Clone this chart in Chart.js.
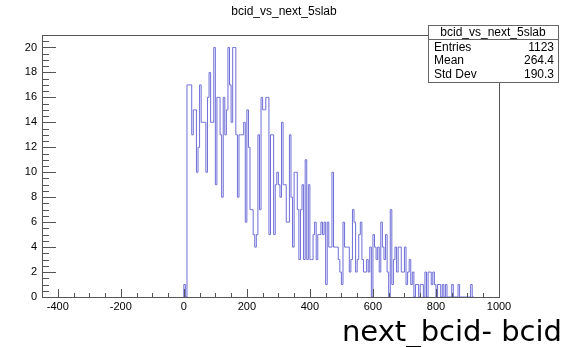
<!DOCTYPE html>
<html>
<head>
<meta charset="utf-8">
<style>
  html, body { margin: 0; padding: 0; background: #fff; }
  canvas { display: block; }
</style>
<script src="https://cdn.jsdelivr.net/npm/chart.js@4/dist/chart.umd.min.js"></script>
</head>
<body>
<canvas id="chart" width="565" height="347"></canvas>
<script>
const histTitle = "bcid_vs_next_5slab";
const axisTitle = "next_bcid- bcid";
const xRange = [-450, 1000];
const yRange = [0, 21];
const binWidth = 5;
const firstEdge = 0;
// counts per 5-unit bin, starting at 0
const counts = [
  1, 0, 17, 17, 17, 13, 15, 15, 10, 12, 17, 14, 14, 14, 10, 16, 18, 14, 14, 20,
  9, 16, 16, 13, 8, 16, 13, 15, 20, 17, 14, 20, 20, 13, 8, 13, 13, 13, 14, 6,
  15, 12, 7, 7, 5, 4, 5, 13, 7, 16, 15, 15, 16, 16, 5, 13, 13, 5, 9, 10,
  9, 8, 14, 9, 9, 6, 6, 13, 8, 4, 10, 10, 7, 3, 7, 9, 3, 11, 3, 9,
  3, 3, 5, 6, 3, 5, 5, 6, 5, 6, 1, 6, 4, 4, 10, 4, 4, 4, 3, 2,
  1, 6, 4, 4, 4, 2, 3, 7, 6, 2, 3, 5, 6, 3, 2, 2, 3, 2, 4, 0,
  5, 4, 3, 4, 2, 6, 4, 3, 5, 2, 0, 7, 1, 3, 4, 2, 4, 4, 2, 2,
  4, 1, 2, 3, 1, 2, 0, 1, 1, 0, 1, 1, 0, 2, 0, 2, 2, 1, 2, 1,
  0, 1, 1, 0, 1, 0, 1, 0, 0, 0, 1, 0, 0, 0, 1, 0, 0, 0, 0, 0,
  0, 0, 1, 0
];
const xTickLabels = [-400, -200, 0, 200, 400, 600, 800, 1000];
const yTickLabels = [0, 2, 4, 6, 8, 10, 12, 14, 16, 18, 20];
const statNames = ["Entries", "Mean", "Std Dev"];
const statValues = ["1123", "264.4", "190.3"];

const points = [{ x: firstEdge, y: 0 }];
counts.forEach((c, i) => points.push({ x: firstEdge + i * binWidth, y: c }));
points.push({ x: firstEdge + counts.length * binWidth, y: 0 });

const font = "'Liberation Sans', Arial, sans-serif";

const rootStyle = {
  id: "rootStyle",
  beforeDraw(chart) {
    const ctx = chart.ctx;
    ctx.save();
    ctx.fillStyle = "#fff";
    ctx.fillRect(0, 0, chart.width, chart.height);
    ctx.restore();
  },
  afterDraw(chart) {
    const ctx = chart.ctx;
    const a = chart.chartArea;
    const xs = chart.scales.x;
    const ys = chart.scales.y;
    ctx.save();
    ctx.strokeStyle = "#555";
    ctx.lineWidth = 1;
    ctx.strokeRect(Math.round(a.left) + 0.5, Math.round(a.top) + 0.5,
      Math.round(a.right - a.left), Math.round(a.bottom - a.top));

    // ticks drawn inside the frame
    ctx.beginPath();
    for (let v = -400; v <= 1000; v += 50) {
      const px = Math.round(xs.getPixelForValue(v)) + 0.5;
      const len = v % 200 === 0 ? 8 : 4;
      ctx.moveTo(px, a.bottom);
      ctx.lineTo(px, a.bottom - len);
    }
    for (let v = 0.5; v <= yRange[1]; v += 0.5) {
      const py = Math.round(ys.getPixelForValue(v)) + 0.5;
      const len = v % 2 === 0 ? 14 : 7;
      ctx.moveTo(a.left, py);
      ctx.lineTo(a.left + len, py);
    }
    ctx.stroke();

    ctx.fillStyle = "#000";
    ctx.font = "12px " + font;
    ctx.textAlign = "center";
    ctx.textBaseline = "middle";
    ctx.fillText(histTitle, 284, 12);

    // stats box
    const bx = 428, by = 25, bw = 130, bh = 57;
    ctx.fillStyle = "#fff";
    ctx.fillRect(bx, by, bw, bh);
    ctx.strokeStyle = "#666";
    ctx.strokeRect(bx + 0.5, by + 0.5, bw, bh);
    ctx.beginPath();
    ctx.moveTo(bx, by + 14.5);
    ctx.lineTo(bx + bw, by + 14.5);
    ctx.stroke();
    ctx.fillStyle = "#000";
    ctx.font = "12px " + font;
    ctx.textAlign = "center";
    ctx.fillText(histTitle, bx + bw / 2, by + 8);
    statNames.forEach((name, i) => {
      const y = by + 22.5 + i * 13.5;
      ctx.textAlign = "left";
      ctx.fillText(name, bx + 6, y);
      ctx.textAlign = "right";
      ctx.fillText(statValues[i], bx + bw - 4, y);
    });

    ctx.font = "29px 'DejaVu Sans', sans-serif";
    ctx.textAlign = "right";
    ctx.textBaseline = "alphabetic";
    ctx.fillText(axisTitle, 562, 341);
    ctx.restore();
  }
};

new Chart(document.getElementById("chart"), {
  type: "line",
  data: {
    datasets: [{
      label: histTitle,
      data: points,
      stepped: true,
      borderColor: "#6e6ed8",
      borderWidth: 1,
      pointRadius: 0,
      fill: false,
      tension: 0
    }]
  },
  options: {
    responsive: false,
    animation: false,
    devicePixelRatio: 1,
    layout: { padding: { left: 0, right: 66, top: 35, bottom: 0 } },
    plugins: { legend: { display: false }, tooltip: { enabled: false }, title: { display: false } },
    scales: {
      x: {
        type: "linear",
        min: xRange[0],
        max: xRange[1],
        grid: { display: false, drawTicks: false },
        border: { display: false },
        afterBuildTicks: (s) => { s.ticks = xTickLabels.map(v => ({ value: v })); },
        afterFit: (s) => { s.height = 50; },
        ticks: {
          padding: 3, color: "#000", font: { family: font, size: 11 },
          maxRotation: 0, autoSkip: false, callback: (v) => String(v)
        }
      },
      y: {
        min: yRange[0],
        max: yRange[1],
        grid: { display: false, drawTicks: false },
        border: { display: false },
        afterBuildTicks: (s) => { s.ticks = yTickLabels.map(v => ({ value: v })); },
        afterFit: (s) => { s.width = 42; },
        ticks: {
          padding: 5, color: "#000", font: { family: font, size: 11 },
          autoSkip: false, callback: (v) => String(v)
        }
      }
    }
  },
  plugins: [rootStyle]
});
</script>
</body>
</html>
